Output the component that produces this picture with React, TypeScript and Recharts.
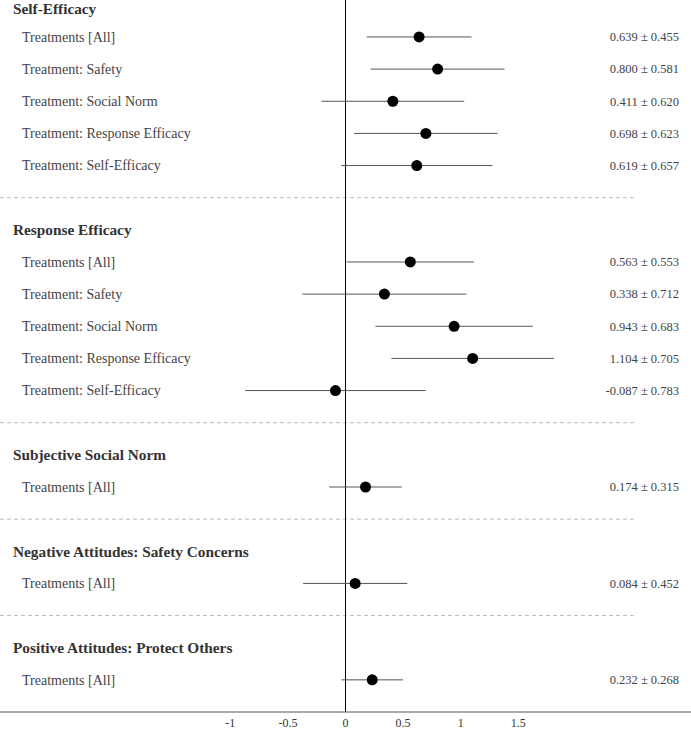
import { ScatterChart, Scatter, XAxis, YAxis, ErrorBar, ReferenceLine } from 'recharts';

const groups = [
  'Self-Efficacy',
  'Response Efficacy',
  'Subjective Social Norm',
  'Negative Attitudes: Safety Concerns',
  'Positive Attitudes: Protect Others',
];

const treatmentLabels = [
  'Treatments [All]',
  'Treatment: Safety',
  'Treatment: Social Norm',
  'Treatment: Response Efficacy',
  'Treatment: Self-Efficacy',
];

// per group: estimates and half-widths (± value)
const selfEfficacyMean = [0.639, 0.8, 0.411, 0.698, 0.619];
const selfEfficacyErr = [0.455, 0.581, 0.62, 0.623, 0.657];
const responseEfficacyMean = [0.563, 0.338, 0.943, 1.104, -0.087];
const responseEfficacyErr = [0.553, 0.712, 0.683, 0.705, 0.783];
const socialNormMean = [0.174];
const socialNormErr = [0.315];
const negativeMean = [0.084];
const negativeErr = [0.452];
const positiveMean = [0.232];
const positiveErr = [0.268];

const xTicks = [-1, -0.5, 0, 0.5, 1, 1.5];

const groupMeans = [selfEfficacyMean, responseEfficacyMean, socialNormMean, negativeMean, positiveMean];
const groupErrs = [selfEfficacyErr, responseEfficacyErr, socialNormErr, negativeErr, positiveErr];

// build rows: header, items, then a dashed separator between groups
const headers: { slot: number; x: number; name: string }[] = [];
const points: { slot: number; x: number; err: number; label: string }[] = [];
const separators: number[] = [];
let slot = 0;
groups.forEach((g, gi) => {
  headers.push({ slot, x: 0, name: g });
  slot++;
  groupMeans[gi].forEach((m, i) => {
    points.push({ slot, x: m, err: groupErrs[gi][i], label: treatmentLabels[i] });
    slot++;
  });
  if (gi < groups.length - 1) {
    separators.push(slot);
    slot++;
  }
});

const FONT = '"Liberation Serif", "Times New Roman", serif';
const W = 691;
const H = 730;
const SEP_END = 2.52;

const fmt = (v: number) => v.toFixed(3);

const PointShape = (props: any) => {
  const { cx, cy, payload } = props;
  return (
    <g>
      <circle cx={cx} cy={cy} r={5.5} fill="#000" />
      <text x={22} y={cy} dy="0.35em" fontSize={14} fill="#444" fontFamily={FONT}>
        {payload.label}
      </text>
      <text x={679} y={cy} dy="0.35em" fontSize={12.5} fill="#444" textAnchor="end" fontFamily={FONT}>
        {`${fmt(payload.x)} ± ${fmt(payload.err)}`}
      </text>
    </g>
  );
};

const HeaderShape = (props: any) => {
  const { cy, payload } = props;
  // keep the first header inside the top edge
  return (
    <text x={13} y={Math.max(cy, 8.5)} dy="0.35em" fontSize={15.3} fontWeight="bold" fill="#333" fontFamily={FONT}>
      {payload.name}
    </text>
  );
};

export default function App() {
  return (
    <div style={{ position: 'absolute', left: 0, top: 0, width: W, height: H, background: '#fff' }}>
      <ScatterChart width={W} height={H} margin={{ top: 0, right: 0, bottom: 0, left: 0 }}>
        <XAxis
          type="number"
          dataKey="x"
          domain={[-3, 3]}
          ticks={xTicks}
          tickLine={false}
          tickSize={4}
          axisLine={{ stroke: '#555' }}
          tick={{ fill: '#333', fontSize: 12, fontFamily: FONT }}
          height={18}
          interval={0}
        />
        <YAxis type="number" dataKey="slot" domain={[-0.15, 22]} reversed hide />
        {separators.map((s) => (
          <ReferenceLine
            key={s}
            segment={[{ x: -3, y: s }, { x: SEP_END, y: s }]}
            stroke="#bbb"
            strokeDasharray="4 3"
          />
        ))}
        <ReferenceLine x={0} stroke="#000" strokeWidth={1} />
        <Scatter data={headers} shape={<HeaderShape />} isAnimationActive={false} />
        <Scatter data={points} shape={<PointShape />} isAnimationActive={false}>
          <ErrorBar dataKey="err" direction="x" width={0} stroke="#555" strokeWidth={1} />
        </Scatter>
      </ScatterChart>
    </div>
  );
}
